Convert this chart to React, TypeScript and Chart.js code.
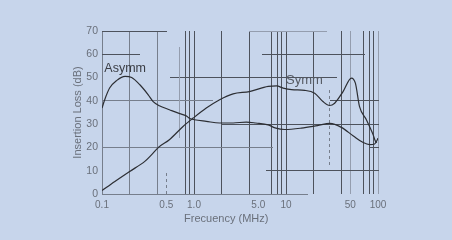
import React, { useEffect, useRef } from "react";
import { Chart, registerables } from "chart.js";

Chart.register(...registerables);

// ---- data (frequency in MHz, insertion loss in dB) ----
const asymmFreq = [0.1, 0.107, 0.121, 0.145, 0.178, 0.21, 0.258, 0.318, 0.36, 0.42, 0.54, 0.7, 0.82, 0.9, 1.01, 1.36, 1.9, 2.66, 3.7, 4.7, 6.4, 7.6, 9.7, 14.7, 22, 30, 40, 54, 69, 81, 92, 97.5, 100];
const asymmLoss = [36.9, 40.5, 45.5, 48.8, 50.5, 50.0, 46.9, 42.6, 39.7, 37.9, 36.2, 34.5, 33.6, 32.4, 31.9, 31.2, 30.5, 30.5, 30.9, 30.5, 29.7, 28.4, 27.7, 28.3, 29.4, 30.3, 28.6, 24.9, 22.1, 21.2, 21.5, 23.0, 24.0];

const symmFreq = [0.1, 0.138, 0.2, 0.292, 0.347, 0.41, 0.54, 0.76, 0.98, 1.36, 1.9, 2.66, 4.0, 6.4, 7.9, 9.3, 11.5, 16, 20.5, 25.2, 29.8, 33.8, 41.7, 51.4, 56.8, 63, 74.7, 88.4, 93, 97];
const symmLoss = [1.5, 5.4, 9.7, 14.0, 16.9, 20.0, 23.3, 29.0, 32.6, 36.9, 40.5, 43.0, 44.0, 46.2, 46.4, 45.5, 44.8, 44.5, 43.3, 39.7, 38.0, 39.0, 44.0, 49.8, 47.6, 37.5, 31.9, 25.5, 23.0, 22.0];

const xTickValues = [0.1, 0.2, 0.4, 0.5, 0.8, 0.9, 1, 2, 4, 5, 7, 8, 9, 10, 20, 40, 50, 70, 80, 90, 100];
const xLabelValues = [0.1, 0.5, 1, 5, 10, 50, 100];
const xLabelTexts = ["0.1", "0.5", "1.0", "5.0", "10", "50", "100"];
const yMin = 0;
const yMax = 70;
const yStep = 10;

// grid pieces of the scanned sheet, in data units: [loss, fromFreq, toFreq, tone]
const hGridSegments: [number, number, number, string][] = [
  [70, 0.1, 0.5, "dark"],
  [70, 4, 27, "light"],
  [60, 0.1, 0.25, "dark"],
  [60, 5.5, 70, "dark"],
  [50, 0.55, 35, "dark"],
  [40, 0.1, 1.55, "mid"],
  [40, 30, 100, "dark"],
  [30, 2, 100, "dark"],
  [20, 0.1, 7, "mid"],
  [20, 80, 100, "dark"],
  [10, 6, 100, "dark"],
  [0, 0.1, 17, "mid"],
];
// partial vertical pieces: [freq, fromLoss, toLoss, tone, dashed]
const vGridSegments: [number, number, number, string, boolean][] = [
  [0.7, 24, 63, "light", false],
  [0.5, 0, 10, "mid", true],
  [30, 12.6, 44.8, "mid", true],
];
const midVerticals = [0.1, 0.2, 0.4];
const lightVerticals = [50, 100];
const hiddenVerticals = [0.5, 5];

const annotations: { text: string; freq: number; loss: number; color: string; size: number }[] = [
  { text: "Asymm", freq: 0.106, loss: 52.4, color: "#3a3d44", size: 12.5 },
  { text: "Symm", freq: 10.0, loss: 47.2, color: "#555a63", size: 13 },
];

const toneColor: Record<string, string> = {
  dark: "#4d525c",
  mid: "#767e8c",
  light: "#949dae",
};

const FONT = "'Liberation Sans', Arial, sans-serif";
const near = (a: number, b: number) => Math.abs(a - b) < 1e-6 * Math.max(1, Math.abs(b));

const align = (p: number) => Math.round(p - 0.5) + 0.5;

const gridPlugin = {
  id: "partialGrid",
  beforeDatasetsDraw(chart: any) {
    const { ctx, scales } = chart;
    const x = scales.x;
    const y = scales.y;
    ctx.save();
    ctx.lineWidth = 1;
    for (const [v, f1, f2, tone] of hGridSegments) {
      const py = align(y.getPixelForValue(v));
      ctx.strokeStyle = toneColor[tone];
      ctx.setLineDash([]);
      ctx.beginPath();
      ctx.moveTo(Math.round(x.getPixelForValue(f1)), py);
      ctx.lineTo(Math.round(x.getPixelForValue(f2)) + 1, py);
      ctx.stroke();
    }
    for (const [f, v1, v2, tone, dashed] of vGridSegments) {
      const px = align(x.getPixelForValue(f));
      ctx.strokeStyle = toneColor[tone];
      ctx.setLineDash(dashed ? [3, 3] : []);
      ctx.beginPath();
      ctx.moveTo(px, Math.round(y.getPixelForValue(v1)));
      ctx.lineTo(px, Math.round(y.getPixelForValue(v2)));
      ctx.stroke();
    }
    ctx.restore();
  },
};

const labelPlugin = {
  id: "curveLabels",
  afterDatasetsDraw(chart: any) {
    const { ctx, scales } = chart;
    ctx.save();
    ctx.textAlign = "left";
    ctx.textBaseline = "alphabetic";
    for (const a of annotations) {
      ctx.font = `${a.size}px ${FONT}`;
      ctx.fillStyle = a.color;
      ctx.fillText(a.text, scales.x.getPixelForValue(a.freq), scales.y.getPixelForValue(a.loss));
    }
    ctx.restore();
  },
};

export default function App() {
  const canvasRef = useRef<HTMLCanvasElement | null>(null);

  useEffect(() => {
    if (!canvasRef.current) return;
    const curve = (label: string, fs: number[], ls: number[]) => ({
      label,
      data: fs.map((f, i) => ({ x: f, y: ls[i] })),
      borderColor: "#2c2e33",
      borderWidth: 1.2,
      pointRadius: 0,
      fill: false,
      cubicInterpolationMode: "monotone" as const,
    });

    const chart = new Chart(canvasRef.current, {
      type: "line",
      data: {
        datasets: [curve("Asymm", asymmFreq, asymmLoss), curve("Symm", symmFreq, symmLoss)],
      },
      options: {
        animation: false,
        responsive: false,
        layout: { padding: { left: 60, right: 74, top: 31, bottom: 0 } },
        plugins: {
          legend: { display: false },
          tooltip: { enabled: false },
        },
        scales: {
          x: {
            type: "logarithmic",
            min: 0.1,
            max: 100,
            afterBuildTicks: (scale: any) => {
              scale.ticks = xTickValues.map((v) => ({ value: v }));
            },
            afterFit: (scale: any) => {
              scale.height = 46;
            },
            ticks: {
              autoSkip: false,
              maxRotation: 0,
              minRotation: 0,
              padding: 5,
              color: "#6a707b",
              font: { family: FONT, size: 10 },
              callback: (value: any) => {
                const i = xLabelValues.findIndex((v) => near(Number(value), v));
                return i >= 0 ? xLabelTexts[i] : "";
              },
            },
            grid: {
              drawTicks: false,
              lineWidth: 1,
              color: (c: any) => {
                const v = c.tick ? c.tick.value : 0;
                if (hiddenVerticals.some((h) => near(v, h))) return "rgba(0,0,0,0)";
                if (lightVerticals.some((h) => near(v, h))) return toneColor.light;
                if (midVerticals.some((h) => near(v, h))) return toneColor.mid;
                return toneColor.dark;
              },
            },
            border: { display: false },
            title: {
              display: true,
              text: "Frecuency (MHz)         ",
              color: "#6a707b",
              font: { family: FONT, size: 11 },
              padding: { top: 0, bottom: 14 },
            },
          },
          y: {
            type: "linear",
            min: yMin,
            max: yMax,
            afterFit: (scale: any) => {
              scale.width = 42;
            },
            ticks: {
              stepSize: yStep,
              padding: 4,
              color: "#6a707b",
              font: { family: FONT, size: 10.5 },
            },
            grid: { display: false, drawTicks: false },
            border: { display: false },
            title: {
              display: true,
              text: "Insertion Loss (dB)",
              color: "#6a707b",
              font: { family: FONT, size: 11 },
              padding: { top: 11, bottom: 0 },
            },
          },
        },
      },
      plugins: [gridPlugin, labelPlugin],
    });
    return () => chart.destroy();
  }, []);

  return (
    <div
      style={{
        position: "fixed",
        left: 0,
        top: 0,
        width: 452,
        height: 240,
        background: "#c7d5eb",
      }}
    >
      <canvas ref={canvasRef} width={452} height={240} style={{ display: "block", width: 452, height: 240 }} />
    </div>
  );
}
